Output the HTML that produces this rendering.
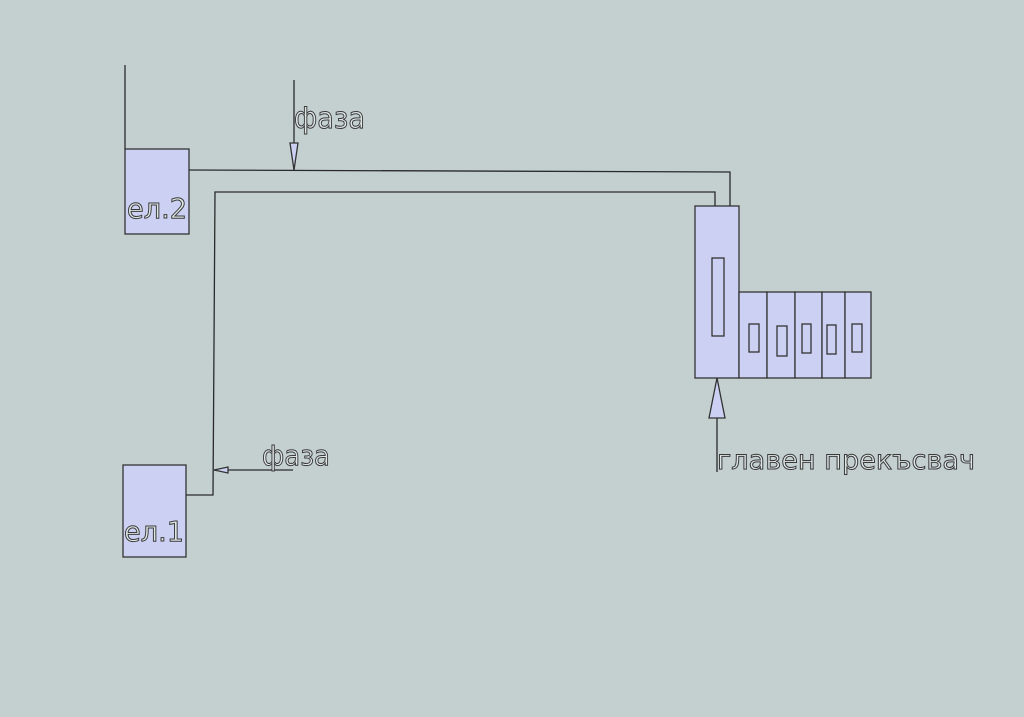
<!DOCTYPE html>
<html><head><meta charset="utf-8"><style>
html,body{margin:0;padding:0;background:#c4d0d0;}
svg{display:block}
text{font-family:"DejaVu Sans","Liberation Sans",sans-serif;fill:#dfe6e6;stroke:#3a3a3a;stroke-width:1;}
</style></head><body>
<svg width="1024" height="717" viewBox="0 0 1024 717" xmlns="http://www.w3.org/2000/svg">
<rect width="1024" height="717" fill="#c4d0d0"/>
<g fill="none" stroke="#2a2a2a" stroke-width="1.3">
<line x1="125" y1="65" x2="125" y2="149"/>
<polyline points="189,170 730,172 730,206"/>
<polyline points="715,206 715,192 215,192 213,495 186,495"/>
<line x1="294" y1="80" x2="294" y2="170"/>
<line x1="214" y1="470" x2="293" y2="470"/>
<line x1="717" y1="378" x2="717" y2="472"/>
</g>
<g fill="#ccd1f3" stroke="#333" stroke-width="1.3">
<rect x="125" y="149" width="64" height="85"/>
<rect x="123" y="465" width="63" height="92"/>
<rect x="695" y="206" width="44" height="172"/>
<rect x="739" y="292" width="28" height="86"/>
<rect x="767" y="292" width="28" height="86"/>
<rect x="795" y="292" width="27" height="86"/>
<rect x="822" y="292" width="23" height="86"/>
<rect x="845" y="292" width="26" height="86"/>
<rect x="712" y="258" width="12" height="78"/>
<rect x="749" y="324" width="10" height="28"/>
<rect x="777" y="326" width="10" height="30"/>
<rect x="802" y="324" width="9" height="29"/>
<rect x="827" y="325" width="9" height="29"/>
<rect x="852" y="324" width="10" height="28"/>
<polygon points="290,143 298,143 294,170"/>
<polygon points="214,470 228,467 228,473"/>
<polygon points="717,378 709,418 725,418"/>
</g>
<text x="294" y="128" font-size="29" textLength="71" lengthAdjust="spacingAndGlyphs">фаза</text>
<text x="262" y="465" font-size="28" textLength="68" lengthAdjust="spacingAndGlyphs">фаза</text>
<text x="127" y="218" font-size="28" textLength="60" lengthAdjust="spacingAndGlyphs">ел.2</text>
<text x="124" y="541" font-size="28" textLength="60" lengthAdjust="spacingAndGlyphs">ел.1</text>
<text x="717" y="469" font-size="27" textLength="258" lengthAdjust="spacingAndGlyphs">главен прекъсвач</text>
</svg>
</body></html>
